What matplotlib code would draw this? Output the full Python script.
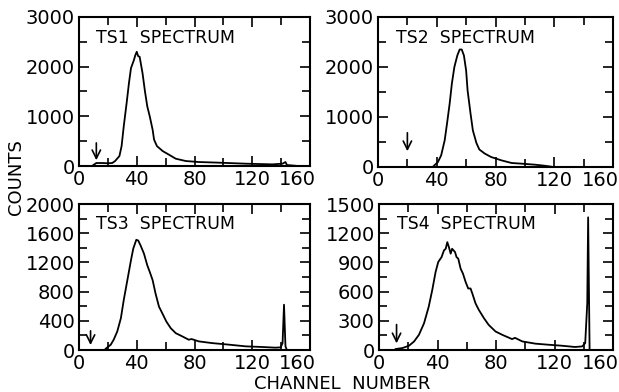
import matplotlib
matplotlib.use("Agg")
import matplotlib.pyplot as plt
from matplotlib.ticker import MultipleLocator
from matplotlib.transforms import ScaledTranslation

# ---------------- data ----------------
ts1_ch = [9, 12, 16, 20, 23, 25, 28, 29.5, 31, 33, 34.6, 36, 38, 39, 40, 41, 42, 44, 45.7,
          47.3, 49, 51, 52, 54, 58, 62, 67, 74, 83, 97, 115, 134, 141, 143, 144, 150]
ts1_counts = [0, 60, 60, 55, 60, 100, 200, 400, 800, 1270, 1670, 1970, 2130, 2230, 2300,
              2210, 2200, 1870, 1500, 1200, 1000, 730, 530, 400, 300, 233, 147, 100, 80, 67,
              47, 33, 47, 80, 20, 5]

ts2_ch = [37.4, 40.8, 43, 45.4, 47, 48.8, 50.3, 52, 54, 55.6, 57, 58.5, 60, 61, 63, 64.6,
          67, 69, 72.6, 77, 84, 91, 97.6, 106.6, 113, 118]
ts2_counts = [5, 100, 233, 533, 870, 1270, 1670, 2000, 2230, 2350, 2350, 2230, 1930, 1530,
              1070, 730, 480, 350, 270, 200, 133, 80, 67, 47, 27, 7]

ts3_ch = [18.5, 22, 24, 26.5, 29, 31, 33.5, 36, 37.6, 39.7, 41, 42.7, 45, 47.3, 49, 51, 53,
          55.4, 57.7, 60.5, 63.5, 67, 71.6, 76, 78, 83, 92, 104, 115.5, 127, 136, 139.7,
          141, 142, 143, 144]
ts3_counts = [18, 73, 140, 254, 435, 685, 957, 1230, 1390, 1510, 1500, 1430, 1320, 1160,
              1070, 957, 775, 594, 503, 390, 300, 231, 186, 141, 150, 118, 95, 73, 50, 41,
              32, 36, 95, 620, 50, 0]

ts4_ch = [11.4, 16, 20.5, 24, 27.3, 30.8, 34, 36.4, 38.7, 40.5, 42.8, 44.4, 45.6, 46.7,
          47.8, 49, 50, 52, 53, 54.2, 55.8, 57.4, 59.2, 61, 62.6, 63.8, 66, 68.3, 71.8,
          75, 79.7, 84.3, 91, 93, 98, 107, 116, 125, 134, 139, 141, 142.4, 143, 144]
ts4_counts = [10, 20, 44, 88, 156, 275, 445, 615, 802, 904, 955, 1023, 1040, 1108, 1057,
              990, 1040, 1006, 955, 938, 836, 785, 700, 632, 632, 581, 479, 411, 326, 258,
              190, 156, 112, 125, 88, 65, 54, 44, 31, 37, 71, 480, 1363, 0]

titles = ["TS1  SPECTRUM", "TS2  SPECTRUM", "TS3  SPECTRUM", "TS4  SPECTRUM"]
x_ticks = [0, 40, 80, 120, 160]
y_limits = [3000, 3000, 2000, 1500]
y_major = [1000, 1000, 400, 300]
y_minor = [500, 500, 200, 150]
arrow_ch = [12, 20, 8, 12]
arrow_top = [520, 740, 300, 290]
arrow_bot = [60, 260, 30, 40]

series = [(ts1_ch, ts1_counts), (ts2_ch, ts2_counts), (ts3_ch, ts3_counts), (ts4_ch, ts4_counts)]

# ---------------- figure ----------------
W, H = 619, 392
fig = plt.figure(figsize=(W / 100, H / 100), dpi=100)
plt.rcParams['font.family'] = ['DejaVu Sans']

# axes boxes in pixels: left, top, right, bottom
boxes = [(79, 17, 310, 166), (378, 17, 613, 167), (79, 204, 310, 350), (379, 204, 613, 350)]

for i, (l, t, r, b) in enumerate(boxes):
    ax = fig.add_axes([l / W, (H - b) / H, (r - l) / W, (b - t) / H])
    x, y = series[i]
    ax.plot(x, y, color='black', lw=1.3)
    ax.set_xlim(0, 160)
    ax.set_ylim(0, y_limits[i])
    ax.set_xticks(x_ticks)
    ax.xaxis.set_minor_locator(MultipleLocator(20))
    ax.yaxis.set_major_locator(MultipleLocator(y_major[i]))
    ax.yaxis.set_minor_locator(MultipleLocator(y_minor[i]))
    ax.tick_params(which='both', direction='in', top=True, right=True, width=1.2,
                   labelsize=14, pad=3)
    ax.tick_params(which='major', length=7)
    ax.tick_params(which='minor', length=6)
    for s in ax.spines.values():
        s.set_linewidth(1.5)
    last = ax.xaxis.get_major_ticks()[-1].label1
    last.set_horizontalalignment('right')
    last.set_transform(last.get_transform() + ScaledTranslation(4 / 72, 0, fig.dpi_scale_trans))
    ax.text(0.075, 0.86, titles[i], transform=ax.transAxes, fontsize=12.5,
            va='center', ha='left')
    ax.annotate('', xy=(arrow_ch[i], arrow_bot[i]), xytext=(arrow_ch[i], arrow_top[i]),
                arrowprops=dict(arrowstyle='->,head_length=0.6,head_width=0.3',
                                color='black', lw=1.2))

fig.text(16 / W, 1 - 177 / H, 'COUNTS', rotation=90, fontsize=13, ha='center', va='center')
fig.text(342 / W, 1 - 384 / H, 'CHANNEL  NUMBER', fontsize=13, ha='center', va='center')

fig.savefig('out.png', dpi=100)
